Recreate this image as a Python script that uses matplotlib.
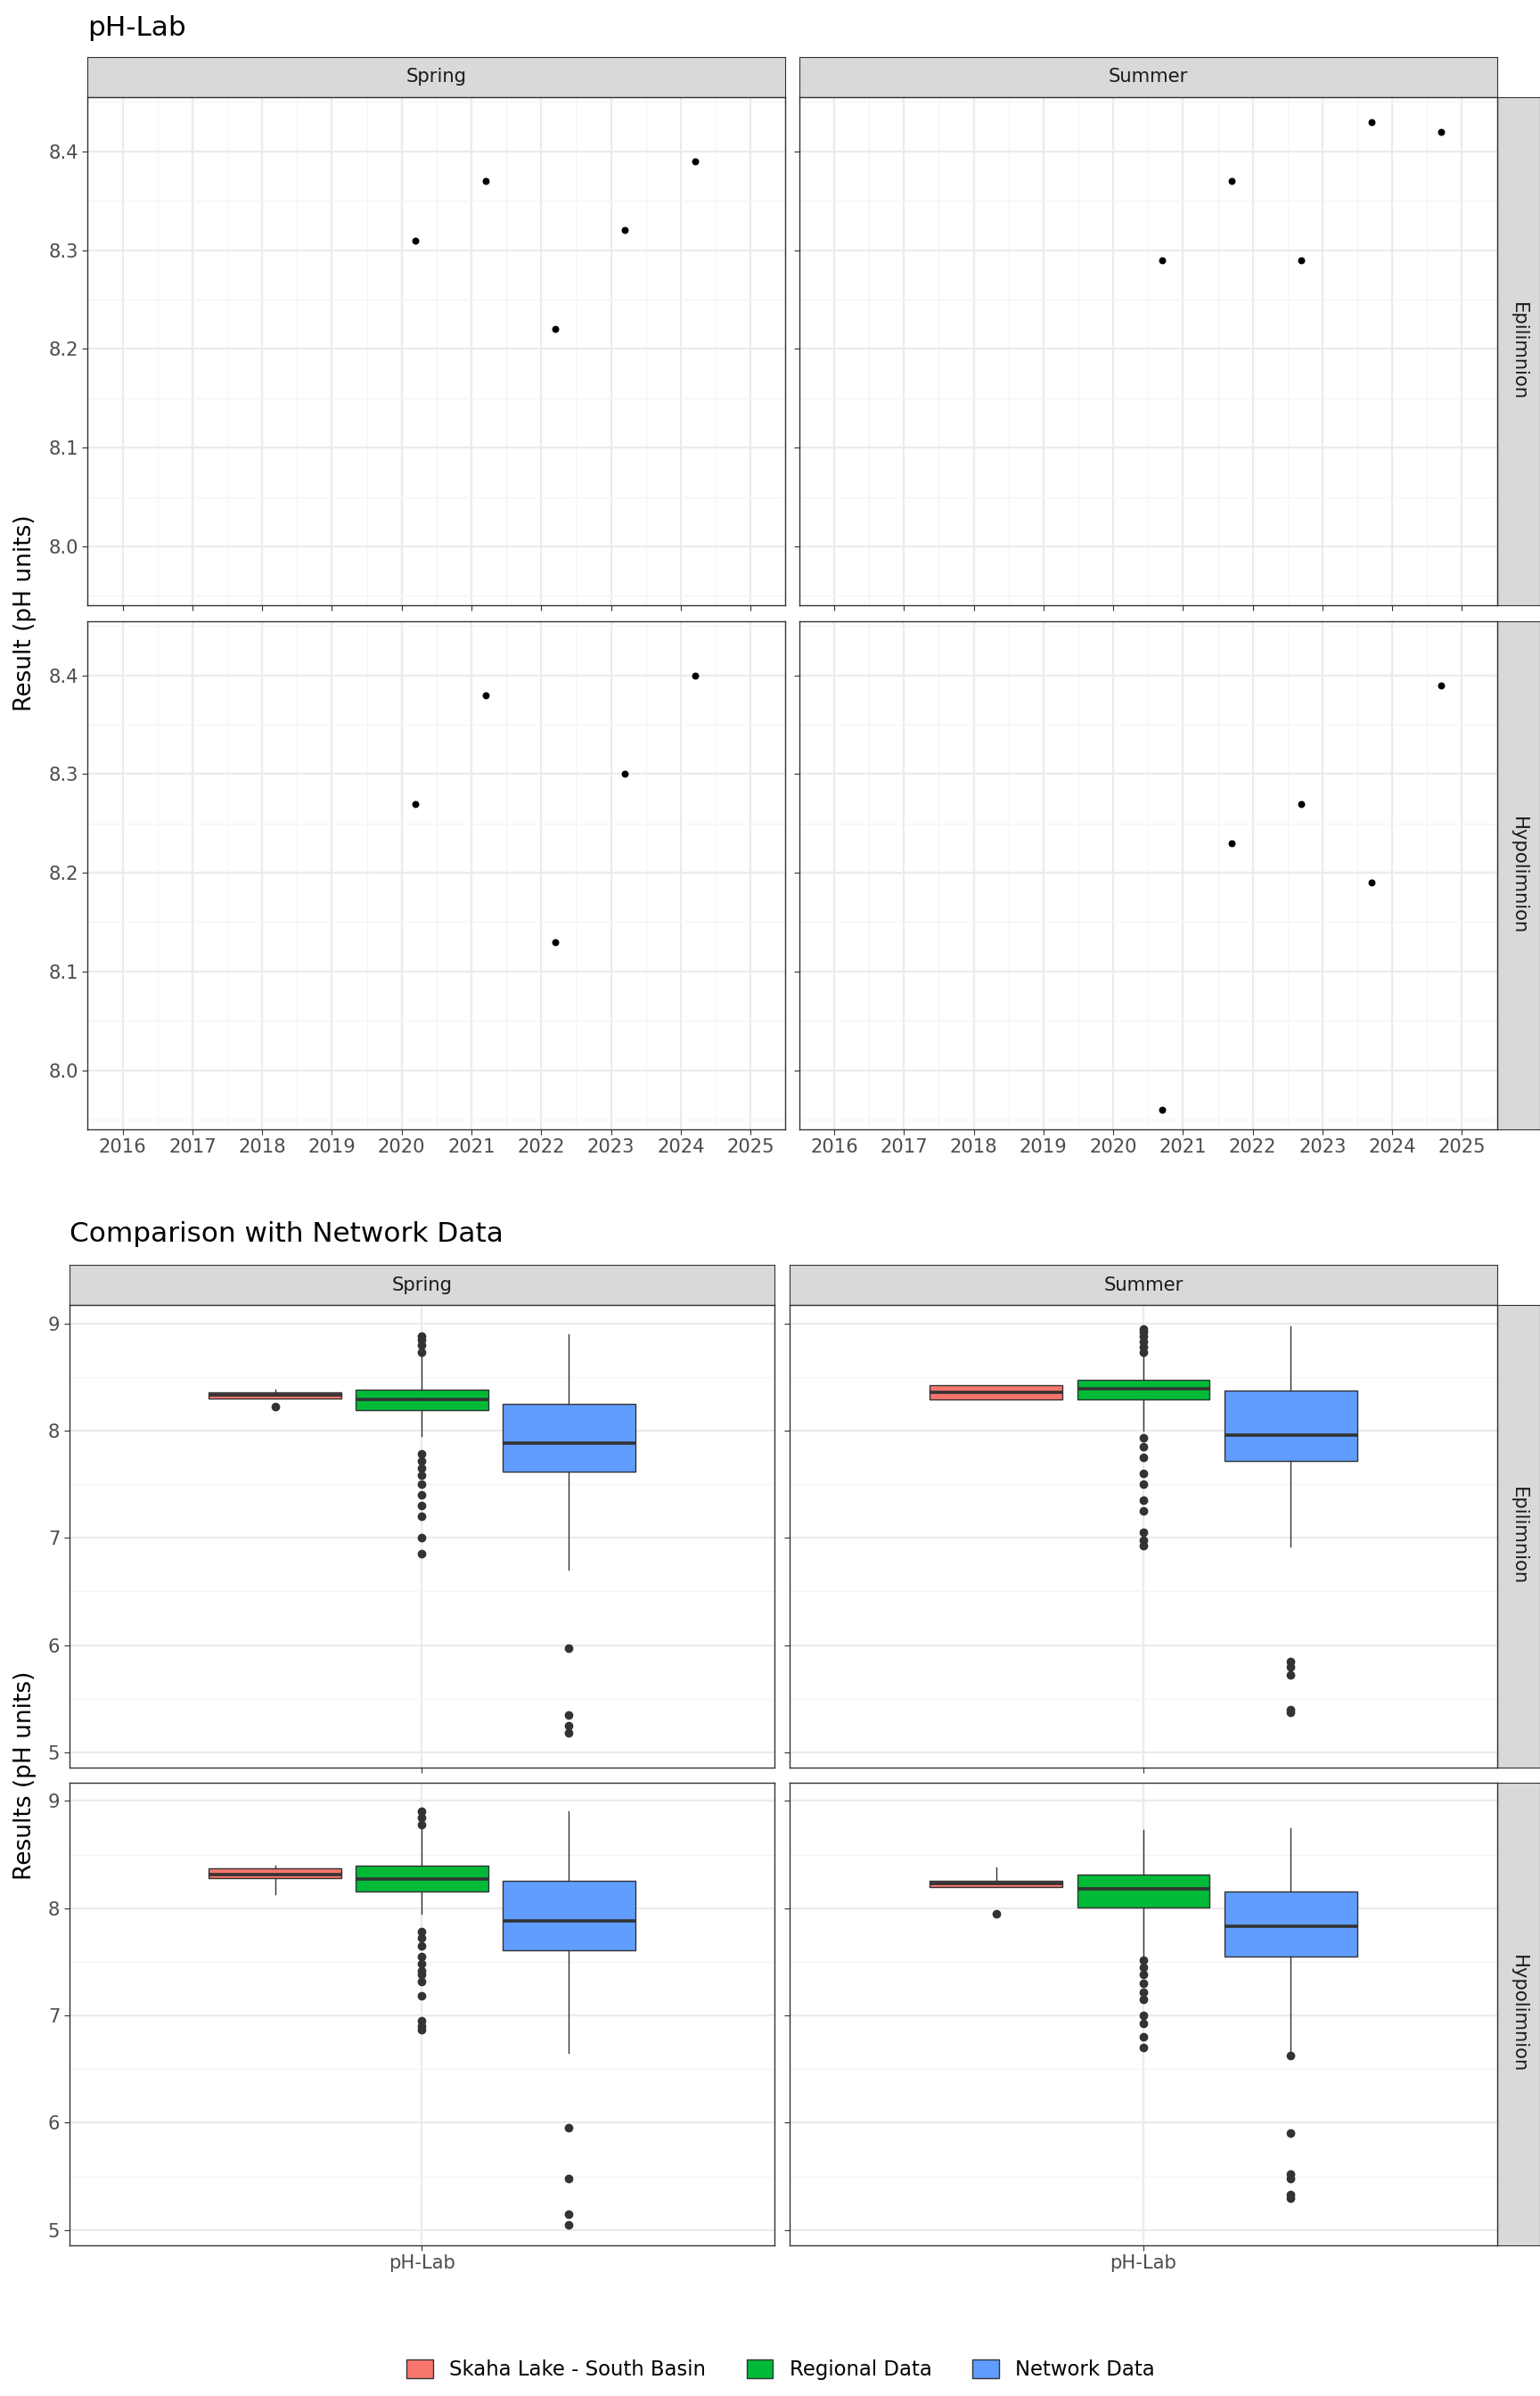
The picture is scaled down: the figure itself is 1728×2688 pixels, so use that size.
import numpy as np
import matplotlib
matplotlib.use('Agg')
import matplotlib.pyplot as plt
from matplotlib.patches import Patch

# ---- data: top panel (pH-Lab by year) ----
spring_years = [2020.2, 2021.2, 2022.2, 2023.2, 2024.2]
summer_years = [2020.7, 2021.7, 2022.7, 2023.7, 2024.7]
spring_epi = [8.31, 8.37, 8.22, 8.32, 8.39]
summer_epi = [8.29, 8.37, 8.29, 8.43, 8.42]
spring_hypo = [8.27, 8.38, 8.13, 8.30, 8.40]
summer_hypo = [7.96, 8.23, 8.27, 8.19, 8.39]
year_ticks = list(range(2016, 2026))

# ---- data: boxplot summaries (q1, median, q3, whisker low, whisker high, outliers) ----
groups = ['Skaha Lake - South Basin', 'Regional Data', 'Network Data']
group_colors = ['#F8766D', '#00BA38', '#619CFF']

box_spring_epi = [
    (8.30, 8.33, 8.36, 8.30, 8.38, [8.22]),
    (8.19, 8.29, 8.38, 7.95, 8.72, [8.88, 8.85, 8.80, 8.73, 7.78, 7.72, 7.65, 7.58, 7.50, 7.40, 7.30, 7.20, 7.00, 6.85]),
    (7.62, 7.88, 8.25, 6.70, 8.90, [5.97, 5.35, 5.25, 5.18]),
]
box_summer_epi = [
    (8.29, 8.36, 8.42, 8.29, 8.42, []),
    (8.29, 8.39, 8.47, 8.00, 8.70, [8.95, 8.92, 8.88, 8.83, 8.78, 8.73, 7.93, 7.85, 7.75, 7.60, 7.50, 7.35, 7.25, 7.05, 6.98, 6.93]),
    (7.72, 7.96, 8.37, 6.92, 8.97, [5.85, 5.80, 5.72, 5.40, 5.37]),
]
box_spring_hypo = [
    (8.28, 8.31, 8.37, 8.13, 8.40, []),
    (8.16, 8.27, 8.40, 7.95, 8.76, [8.90, 8.85, 8.78, 7.78, 7.72, 7.65, 7.55, 7.48, 7.42, 7.38, 7.32, 7.18, 6.95, 6.90, 6.87]),
    (7.61, 7.88, 8.26, 6.65, 8.90, [5.95, 5.48, 5.15, 5.05]),
]
box_summer_hypo = [
    (8.20, 8.23, 8.26, 8.20, 8.38, [7.95]),
    (8.01, 8.18, 8.31, 7.55, 8.73, [7.52, 7.45, 7.38, 7.30, 7.22, 7.15, 7.00, 6.93, 6.80, 6.70]),
    (7.55, 7.83, 8.16, 6.65, 8.75, [6.63, 5.90, 5.52, 5.48, 5.33, 5.30]),
]

W, H = 1000.0, 1555.0
fig = plt.figure(figsize=(17.28, 26.88), dpi=100)
FS = 1.728


def add_ax(x0, y0, x1, y1):
    return fig.add_axes([x0 / W, 1 - y1 / H, (x1 - x0) / W, (y1 - y0) / H])


def style(ax):
    ax.set_facecolor('white')
    for s in ax.spines.values():
        s.set_color('#333333')
        s.set_linewidth(1.0)
    ax.grid(True, which='major', color='#EBEBEB', lw=1.6)
    ax.grid(True, which='minor', color='#F5F5F5', lw=0.9)
    ax.set_axisbelow(True)
    ax.tick_params(which='major', length=4, color='#333333', labelsize=8.8 * FS, labelcolor='#4D4D4D')
    ax.tick_params(which='minor', length=0)


def strip(x0, y0, x1, y1, text, rot=0):
    a = add_ax(x0, y0, x1, y1)
    a.set_facecolor('#D9D9D9')
    a.set_xticks([]); a.set_yticks([])
    for s in a.spines.values():
        s.set_color('#333333')
    a.text(0.5, 0.5, text, transform=a.transAxes, ha='center', va='center',
           rotation=rot, fontsize=8.8 * FS, color='#1A1A1A')


# ---------- top section ----------
fig.text(57 / W, 1 - 18 / H, 'pH-Lab', fontsize=13 * FS, va='center', ha='left')
cols = [(57, 510), (519, 972)]
rows = [(63, 393), (403, 733)]
top_data = [[(spring_years, spring_epi), (summer_years, summer_epi)],
            [(spring_years, spring_hypo), (summer_years, summer_hypo)]]
for j, (c0, c1) in enumerate(cols):
    strip(c0, 37, c1, 63, ['Spring', 'Summer'][j])
for i, (r0, r1) in enumerate(rows):
    strip(972, r0, 1000, r1, ['Epilimnion', 'Hypolimnion'][i], rot=-90)
    for j, (c0, c1) in enumerate(cols):
        ax = add_ax(c0, r0, c1, r1)
        style(ax)
        xs, ys = top_data[i][j]
        ax.scatter(xs, ys, s=22, color='black', zorder=3)
        ax.set_xlim(2015.56, 2025.46)
        ax.set_ylim(7.94, 8.455)
        ax.set_xticks(year_ticks)
        ax.set_xticks(np.arange(2015.5, 2025.6, 1.0), minor=True)
        ax.set_yticks([8.0, 8.1, 8.2, 8.3, 8.4])
        ax.set_yticks(np.arange(7.95, 8.46, 0.1), minor=True)
        ax.set_yticklabels(['8.0', '8.1', '8.2', '8.3', '8.4'])
        if i == 0:
            ax.tick_params(axis='x', labelbottom=False)
        if j == 1:
            ax.tick_params(axis='y', labelleft=False)
fig.text(16 / W, 1 - 398 / H, 'Result (pH units)', rotation=90, fontsize=11 * FS, va='center', ha='center')

# ---------- bottom section ----------
fig.text(45 / W, 1 - 801 / H, 'Comparison with Network Data', fontsize=13 * FS, va='center', ha='left')
cols = [(45, 503), (513, 972)]
rows = [(847, 1147), (1157, 1457)]
box_data = [[box_spring_epi, box_summer_epi], [box_spring_hypo, box_summer_hypo]]
offsets = [-0.25, 0.0, 0.25]
for j, (c0, c1) in enumerate(cols):
    strip(c0, 821, c1, 847, ['Spring', 'Summer'][j])
for i, (r0, r1) in enumerate(rows):
    strip(972, r0, 1000, r1, ['Epilimnion', 'Hypolimnion'][i], rot=-90)
    for j, (c0, c1) in enumerate(cols):
        ax = add_ax(c0, r0, c1, r1)
        style(ax)
        stats = []
        for (q1, med, q3, lo, hi, fl), g in zip(box_data[i][j], groups):
            stats.append(dict(q1=q1, med=med, q3=q3, whislo=lo, whishi=hi, fliers=fl, label=g))
        pos = [1 + o for o in offsets]
        bp = ax.bxp(stats, positions=pos, widths=0.225, patch_artist=True, showcaps=False,
                    boxprops=dict(edgecolor='#333333', lw=1.0),
                    medianprops=dict(color='#333333', lw=2.6),
                    whiskerprops=dict(color='#333333', lw=1.0),
                    flierprops=dict(marker='o', markerfacecolor='#333333', markeredgecolor='#333333', markersize=6))
        for patch, col in zip(bp['boxes'], group_colors):
            patch.set_facecolor(col)
        ax.set_xlim(0.4, 1.6)
        ax.set_ylim(4.86, 9.17)
        ax.set_xticks([1])
        ax.set_xticklabels(['pH-Lab'])
        ax.set_yticks([5, 6, 7, 8, 9])
        ax.set_yticks([5.5, 6.5, 7.5, 8.5], minor=True)
        ax.grid(False, axis='x', which='minor')
        if i == 0:
            ax.tick_params(axis='x', labelbottom=False)
        if j == 1:
            ax.tick_params(axis='y', labelleft=False)
fig.text(16 / W, 1 - 1152 / H, 'Results (pH units)', rotation=90, fontsize=11 * FS, va='center', ha='center')

handles = [Patch(facecolor=c, edgecolor='#333333', label=g) for g, c in zip(groups, group_colors)]
fig.legend(handles=handles, loc='center', bbox_to_anchor=(0.507, 1 - 1538 / H), ncol=3,
           frameon=False, fontsize=9.5 * FS, handlelength=1.3, handleheight=1.0, columnspacing=2.0)

fig.savefig('out.png', dpi=100, facecolor='white')
